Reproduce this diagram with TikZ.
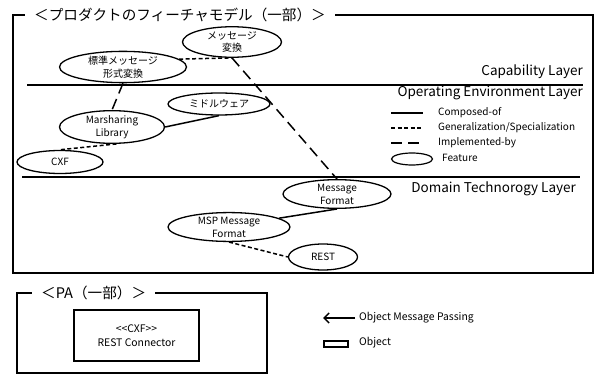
\documentclass[tikz,border=0pt]{standalone}
\usepackage{fontspec}
\setmainfont{Noto Sans CJK JP}
\usetikzlibrary{shapes.geometric,arrows.meta}

\newcommand\myTitleFont{\fontsize{14.6}{16}\selectfont}
\newcommand\myLayerFont{\fontsize{13.5}{15}\selectfont}
\newcommand\myFeatFont{\fontsize{10}{12.8}\selectfont}
\newcommand\myLegendFont{\fontsize{10}{12}\selectfont}
\newcommand\myObjFont{\fontsize{10.4}{14}\selectfont}

\tikzset{
  frame/.style={line width=2.6pt},
  layerline/.style={line width=1.8pt},
  feature/.style={ellipse, draw, line width=1.3pt, inner sep=0pt, align=center, font=\myFeatFont},
  composed/.style={line width=1.5pt},
  genspec/.style={line width=1.5pt, dash pattern=on 4pt off 2.5pt},
  implby/.style={line width=1.5pt, dash pattern=on 11pt off 6pt},
  layerlabel/.style={anchor=east, inner sep=0pt, font=\myLayerFont},
  legendtext/.style={anchor=west, inner sep=0pt, font=\myLegendFont},
  objtext/.style={anchor=west, inner sep=0pt, font=\myObjFont},
  titlelabel/.style={anchor=west, fill=white, inner xsep=9pt, inner ysep=1pt, font=\myTitleFont},
  objbox/.style={draw, line width=1.5pt, align=center, font=\myObjFont}
}

\begin{document}
\begin{tikzpicture}[x=1pt, y=-1pt]
\useasboundingbox (0,0) rectangle (596,374);

% ---------- feature model frame ----------
\draw[frame] (13,15) rectangle (593,273);
\node[titlelabel] (fmtitle) at (25,15) {＜プロダクトのフィーチャモデル（一部）＞};

% layer separators and names
\coordinate (capL) at (27,85);  \coordinate (capR) at (583,85);
\coordinate (domL) at (22,177); \coordinate (domR) at (580,177);
\draw[layerline] (capL) -- (capR);
\draw[layerline] (domL) -- (domR);
\node[layerlabel] (caplayer) at (583,72) {Capability Layer};
\node[layerlabel] (oplayer) at (583,92.5) {Operating Environment Layer};
\node[layerlabel] (domlayer) at (576,189) {Domain Technorogy Layer};

% features
\node[feature, minimum width=127pt, minimum height=28pt] (std) at (123,67) {標準メッセージ\\形式変換};
\node[feature, minimum width=99pt, minimum height=25pt] (msgconv) at (232,42) {メッセージ\\変換};
\node[feature, minimum width=102pt, minimum height=22pt] (mw) at (219,104) {ミドルウェア};
\node[feature, minimum width=105pt, minimum height=27pt] (mars) at (112,127) {Marsharing\\Library};
\node[feature, minimum width=86pt, minimum height=23pt] (cxf) at (60,162) {CXF};
\node[feature, minimum width=108pt, minimum height=25pt] (msgfmt) at (337,194) {Message\\Format};
\node[feature, minimum width=122pt, minimum height=27pt] (msp) at (229,227) {MSP Message\\Format};
\node[feature, minimum width=69pt, minimum height=26pt] (rest) at (323,257) {REST};

% relations
\draw[genspec] (std.8) -- (msgconv.south);
\draw[implby] (std.south) -- (mars.north);
\draw[composed] (mars.east) -- (mw.south);
\draw[genspec] (mars.-75) -- (cxf.95);
\draw[implby] (msgconv.south) -- (msgfmt.north);
\draw[composed] (msgfmt.south) -- (msp.10);
\draw[genspec] (msp.south) -- (rest.west);

% legend
\coordinate (lg1a) at (391,113); \coordinate (lg1b) at (423,113);
\coordinate (lg2a) at (391,128); \coordinate (lg2b) at (423,128);
\coordinate (lg3a) at (391,143); \coordinate (lg3b) at (423,143);
\draw[composed, line width=1.2pt] (lg1a) -- (lg1b);
\draw[genspec] (lg2a) -- (lg2b);
\draw[implby] (lg3a) -- (lg3b);
\node[ellipse, draw, line width=1.2pt, minimum width=41pt, minimum height=12pt, inner sep=0pt] (lgfeat) at (412,159) {};
\node[legendtext] (lgt1) at (438,113) {Composed-of};
\node[legendtext] (lgt2) at (438,128) {Generalization/Specialization};
\node[legendtext] (lgt3) at (438,143) {Implemented-by};
\node[legendtext] (lgt4) at (442,158) {Feature};

% ---------- PA frame ----------
\draw[frame] (17,293) rectangle (267,373);
\node[titlelabel] (patitle) at (32,293) {＜PA（一部）＞};
\node[objbox, minimum width=125pt, minimum height=51pt] (restconn) at (136.5,335.5) {<{}<CXF>{}>\\REST Connector};

% object legend
\coordinate (arrR) at (355,318); \coordinate (arrL) at (323,318);
\draw[line width=1.5pt, -{Straight Barb[length=5pt,width=10pt]}] (arrR) -- (arrL);
\node[objtext] (omp) at (359,318) {Object Message Passing};
\node[draw, line width=1.5pt, minimum width=24pt, minimum height=6pt, inner sep=0pt] (objlg) at (336,344) {};
\node[objtext] (objtxt) at (359,343) {Object};
\end{tikzpicture}
\end{document}
